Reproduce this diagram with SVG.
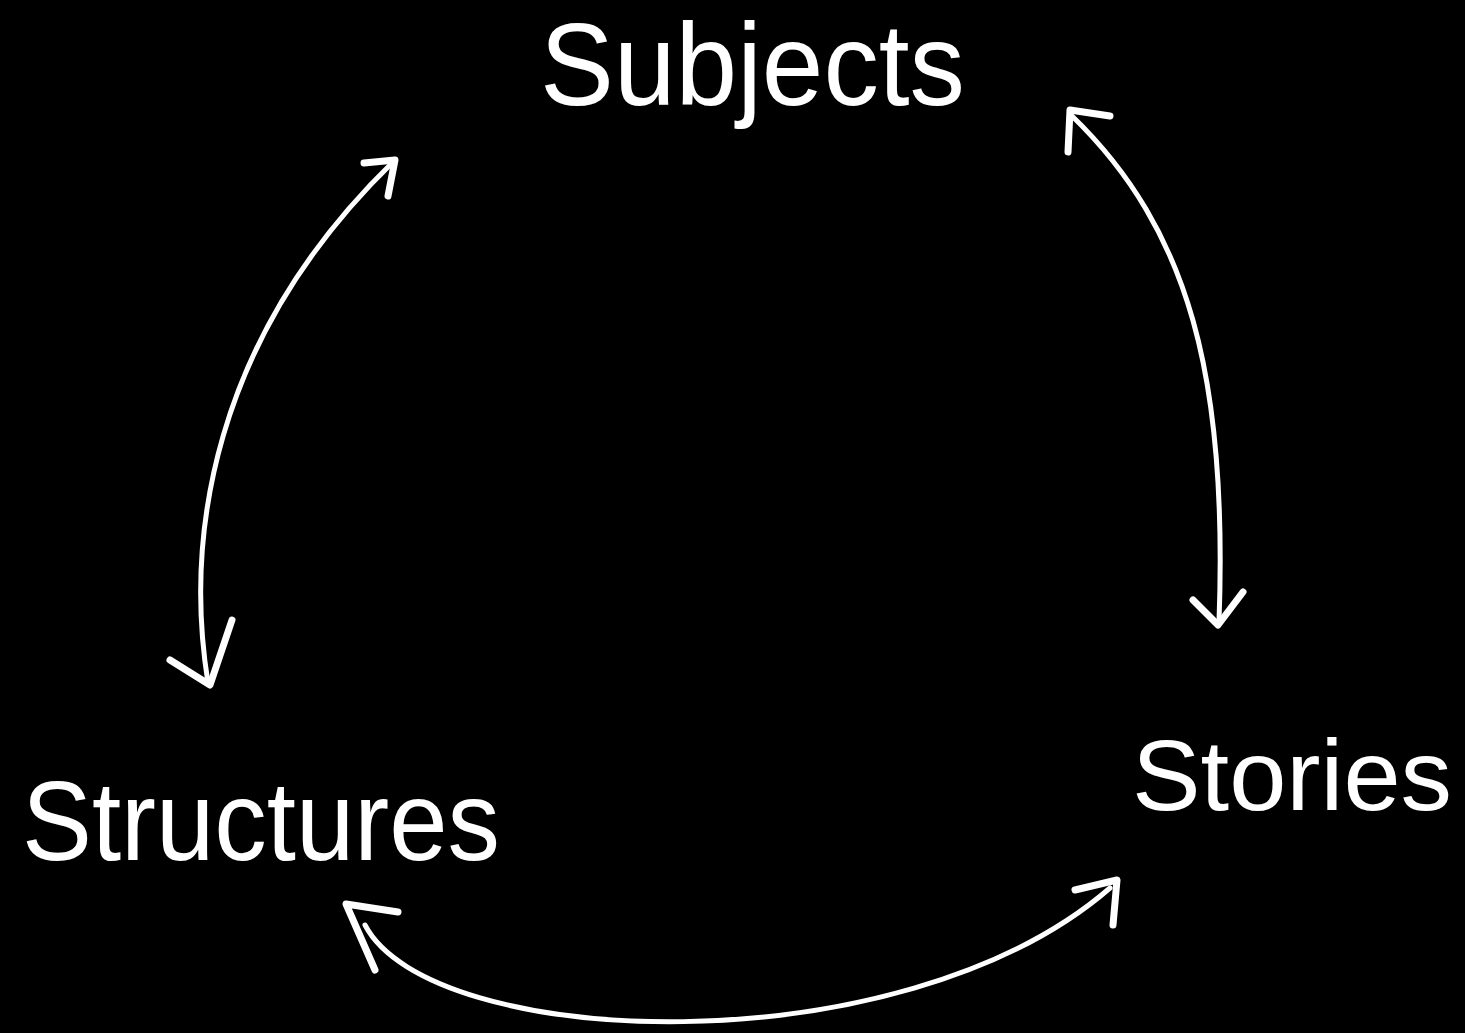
<svg xmlns="http://www.w3.org/2000/svg" width="1465" height="1033" viewBox="0 0 1465 1033">
<style>
.lbl{font-family:"Liberation Sans",Arial,sans-serif;fill:#fff}
.ln{fill:none;stroke:#fff;stroke-width:5;stroke-linecap:round;stroke-linejoin:round}
.hd{fill:none;stroke:#fff;stroke-width:7;stroke-linecap:round;stroke-linejoin:round}
</style>
<rect x="0" y="0" width="1465" height="1033" fill="#000"/>
<g id="node-subjects"><text class="lbl" x="540" y="105" font-size="116" textLength="425" lengthAdjust="spacingAndGlyphs">Subjects</text></g>
<g id="node-structures"><text class="lbl" x="22" y="860" font-size="114" textLength="478" lengthAdjust="spacingAndGlyphs">Structures</text></g>
<g id="node-stories"><text class="lbl" x="1132" y="810" font-size="100" textLength="320" lengthAdjust="spacingAndGlyphs">Stories</text></g>
<g id="connectors">
<path class="ln" d="M208,683 C185,540 210,340 393,162"/>
<polyline class="hd" points="364,163 395,160 388,196"/>
<polyline class="hd" points="170,660 210,685 232,620"/>
<path class="ln" d="M1072,116 C1190,230 1228,380 1219,622"/>
<polyline class="hd" points="1110,116 1070,110 1068,152"/>
<polyline class="hd" points="1193,600 1218,625 1243,592"/>
<path class="ln" d="M365,925 C430,1050 900,1070 1110,888"/>
<polyline class="hd" points="398,912 346,904 375,970"/>
<polyline class="hd" points="1075,890 1117,880 1113,925"/>
</g>
</svg>
